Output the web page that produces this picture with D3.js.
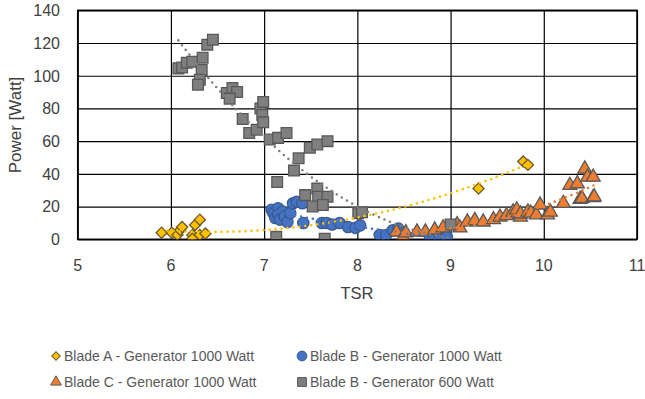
<!DOCTYPE html>
<html>
<head>
<meta charset="utf-8">
<script src="https://cdn.jsdelivr.net/npm/d3@7/dist/d3.min.js"></script>
<style>
  body { margin: 0; background: #fff; }
  svg { display: block; }
</style>
</head>
<body>
<div id="chart"></div>
<script>
(function () {
  'use strict';

  // TSR / Power [Watt] pairs
  const bladeA1000 = [
    [5.90, 4], [6.01, 4], [6.07, 2.7], [6.10, 5.7], [6.12, 7.5], [6.23, 2.7],
    [6.23, 0.3], [6.26, 8.8], [6.31, 12], [6.31, 2.7], [6.37, 3.5],
    [9.30, 31], [9.78, 47.5], [9.83, 45.5]
  ];
  const bladeB1000 = [
    [7.08, 18], [7.10, 16], [7.12, 13], [7.15, 19], [7.15, 15], [7.17, 12],
    [7.20, 17], [7.22, 14], [7.25, 10.5], [7.28, 16], [7.31, 22], [7.35, 23],
    [7.41, 22], [7.42, 10], [7.62, 10], [7.67, 10], [7.73, 9], [7.81, 10],
    [7.90, 7.5], [7.98, 7], [8.03, 8.5], [8.24, 2.6], [8.31, 2.6], [8.38, 5.5],
    [8.44, 6.5], [8.49, 4], [8.78, 1.4], [8.89, 1.4], [8.96, 1.4]
  ];
  const bladeC1000 = [
    [8.42, 4.5], [8.49, 1.4], [8.52, 4], [8.64, 4.5], [8.73, 4.5], [8.83, 5.7],
    [8.92, 7], [9.07, 9], [9.10, 7], [9.18, 10.6], [9.26, 11.5], [9.35, 10.6],
    [9.46, 12], [9.53, 13.6], [9.60, 14.5], [9.67, 16.7], [9.71, 18], [9.75, 13.6],
    [9.75, 15.5], [9.83, 16.7], [9.86, 16], [9.92, 15], [9.96, 21], [10.04, 15],
    [10.07, 16.7], [10.21, 22], [10.28, 33], [10.36, 34], [10.39, 24.5],
    [10.41, 25], [10.44, 43], [10.47, 38], [10.53, 38], [10.53, 25.5], [10.54, 26]
  ];
  const bladeB600 = [
    [6.08, 104.5], [6.12, 105], [6.17, 108], [6.23, 108.5], [6.34, 111],
    [6.33, 103.5], [6.31, 97.5], [6.29, 94.5], [6.39, 119], [6.45, 122],
    [6.60, 89.5], [6.66, 92.5], [6.71, 90], [6.63, 86], [6.77, 73.5],
    [6.84, 65], [6.92, 67], [6.96, 80], [6.98, 76], [6.99, 84], [6.99, 71.5],
    [7.06, 61], [7.15, 62], [7.24, 65], [7.14, 35], [7.32, 42], [7.37, 49.5],
    [7.49, 56], [7.57, 58], [7.68, 60], [7.44, 27], [7.57, 31], [7.58, 26],
    [7.68, 26], [7.52, 20], [7.63, 21], [8.01, 16], [8.05, 16.5],
    [7.13, 1.5], [7.65, 0.3], [9.00, 9]
  ];

  const xTicks = [5, 6, 7, 8, 9, 10, 11];
  const yTicks = [0, 20, 40, 60, 80, 100, 120, 140];

  const series = [
    { name: 'Blade A - Generator 1000 Watt', data: bladeA1000, shape: 'diamond',  fill: '#FFC000', stroke: '#6b5a2a', line: '#FFC000' },
    { name: 'Blade B - Generator 1000 Watt', data: bladeB1000, shape: 'circle',   fill: '#4472C4', stroke: '#3b5b8f', line: '#4472C4' },
    { name: 'Blade C - Generator 1000 Watt', data: bladeC1000, shape: 'triangle', fill: '#ED7D31', stroke: '#595959', line: '#ED7D31' },
    { name: 'Blade B - Generator 600 Watt',  data: bladeB600,  shape: 'square',   fill: '#7F7F7F', stroke: '#595959', line: '#7F7F7F' }
  ];

  const W = 645, H = 399;
  const PLOT = { left: 77.7, right: 637, top: 10.3, bottom: 239.3 };
  const TEXT = '#404040';
  const FONT = 'Liberation Sans, Arial, sans-serif';

  const x = d3.scaleLinear().domain([5, 11]).range([PLOT.left, PLOT.right]);
  const y = d3.scaleLinear().domain([0, 140]).range([PLOT.bottom, PLOT.top]);

  const svg = d3.select('#chart').append('svg')
    .attr('width', W).attr('height', H);

  svg.append('defs').append('clipPath').attr('id', 'plot-clip')
    .append('rect')
    .attr('x', PLOT.left).attr('y', PLOT.top)
    .attr('width', PLOT.right - PLOT.left).attr('height', PLOT.bottom - PLOT.top);

  // Gridlines
  svg.append('g')
    .attr('transform', `translate(0,${PLOT.bottom})`)
    .call(d3.axisBottom(x).tickValues(xTicks).tickSize(-(PLOT.bottom - PLOT.top)).tickFormat(''))
    .call(g => g.select('.domain').remove())
    .call(g => g.selectAll('line').attr('stroke', '#000').attr('stroke-width', 1.2));

  svg.append('g')
    .attr('transform', `translate(${PLOT.left},0)`)
    .call(d3.axisLeft(y).tickValues(yTicks).tickSize(-(PLOT.right - PLOT.left)).tickFormat(''))
    .call(g => g.select('.domain').remove())
    .call(g => g.selectAll('line').attr('stroke', '#000').attr('stroke-width', 1.2));

  svg.append('rect')
    .attr('x', PLOT.left).attr('y', PLOT.top)
    .attr('width', PLOT.right - PLOT.left).attr('height', PLOT.bottom - PLOT.top)
    .attr('fill', 'none').attr('stroke', '#000').attr('stroke-width', 1.5);

  // Tick labels
  svg.append('g').selectAll('text')
    .data(xTicks).join('text')
    .attr('x', d => x(d)).attr('y', 270.5)
    .attr('text-anchor', 'middle')
    .attr('font-family', FONT).attr('font-size', 16).attr('fill', TEXT)
    .text(d => d);

  svg.append('g').selectAll('text')
    .data(yTicks).join('text')
    .attr('x', 60).attr('y', d => y(d) + 5.8)
    .attr('text-anchor', 'end')
    .attr('font-family', FONT).attr('font-size', 16).attr('fill', TEXT)
    .text(d => d);

  svg.append('text')
    .attr('x', 357).attr('y', 298.5)
    .attr('text-anchor', 'middle')
    .attr('font-family', FONT).attr('font-size', 16.5).attr('fill', TEXT)
    .text('TSR');

  svg.append('text')
    .attr('transform', 'translate(21,125) rotate(-90)')
    .attr('text-anchor', 'middle')
    .attr('font-family', FONT).attr('font-size', 17).attr('fill', TEXT)
    .text('Power [Watt]');

  // Markers
  const symbols = {
    diamond:  { type: d3.symbolSquare,   size: 62, rotate: 45 },
    circle:   { type: d3.symbolCircle,   size: 100, rotate: 0 },
    triangle: { type: d3.symbolTriangle, size: 85, rotate: 0 },
    square:   { type: d3.symbolSquare,   size: 115, rotate: 0 }
  };

  const marks = svg.append('g').attr('clip-path', 'url(#plot-clip)');
  series.forEach(s => {
    const sym = symbols[s.shape];
    marks.append('g').selectAll('path')
      .data(s.data).join('path')
      .attr('d', d3.symbol().type(sym.type).size(sym.size))
      .attr('transform', d => `translate(${x(d[0])},${y(d[1])}) rotate(${sym.rotate})`)
      .attr('fill', s.fill)
      .attr('stroke', s.stroke)
      .attr('stroke-width', 1.3);
  });

  // Order-2 polynomial trendlines (least squares over each series)
  function polyFit2(pts) {
    let n = pts.length, sx = 0, sx2 = 0, sx3 = 0, sx4 = 0, sy = 0, sxy = 0, sx2y = 0;
    pts.forEach(([a, b]) => {
      sx += a; sx2 += a * a; sx3 += a * a * a; sx4 += a * a * a * a;
      sy += b; sxy += a * b; sx2y += a * a * b;
    });
    const M = [[n, sx, sx2, sy], [sx, sx2, sx3, sxy], [sx2, sx3, sx4, sx2y]];
    for (let i = 0; i < 3; i++) {
      for (let k = i + 1; k < 3; k++) {
        const f = M[k][i] / M[i][i];
        for (let j = i; j < 4; j++) M[k][j] -= f * M[i][j];
      }
    }
    const c = [0, 0, 0];
    for (let i = 2; i >= 0; i--) {
      let s = M[i][3];
      for (let j = i + 1; j < 3; j++) s -= M[i][j] * c[j];
      c[i] = s / M[i][i];
    }
    return t => c[0] + c[1] * t + c[2] * t * t;
  }

  const line = d3.line().x(d => x(d[0])).y(d => y(d[1]));
  const trends = svg.append('g').attr('clip-path', 'url(#plot-clip)');
  series.forEach(s => {
    const f = polyFit2(s.data);
    const [x0, x1] = d3.extent(s.data, d => d[0]);
    const pts = d3.range(0, 101).map(i => {
      const t = x0 + (x1 - x0) * i / 100;
      return [t, f(t)];
    });
    trends.append('path')
      .attr('d', line(pts))
      .attr('fill', 'none')
      .attr('stroke', s.line)
      .attr('stroke-width', 2.6)
      .attr('stroke-linecap', 'round')
      .attr('stroke-dasharray', '0 6');
  });

  // Legend
  const legendPos = [[56, 356], [302, 356], [56, 382], [302, 382]];
  const legendSize = { diamond: 36, circle: 75, triangle: 50, square: 78 };
  const legend = svg.append('g');
  series.forEach((s, i) => {
    const [lx, ly] = legendPos[i];
    const sym = symbols[s.shape];
    legend.append('path')
      .attr('d', d3.symbol().type(sym.type).size(legendSize[s.shape]))
      .attr('transform', `translate(${lx},${ly}) rotate(${sym.rotate})`)
      .attr('fill', s.fill)
      .attr('stroke', s.stroke)
      .attr('stroke-width', 1);
    legend.append('text')
      .attr('x', lx + 8).attr('y', ly + 5)
      .attr('font-family', FONT).attr('font-size', 14).attr('fill', '#595959')
      .text(s.name);
  });
})();
</script>
</body>
</html>
